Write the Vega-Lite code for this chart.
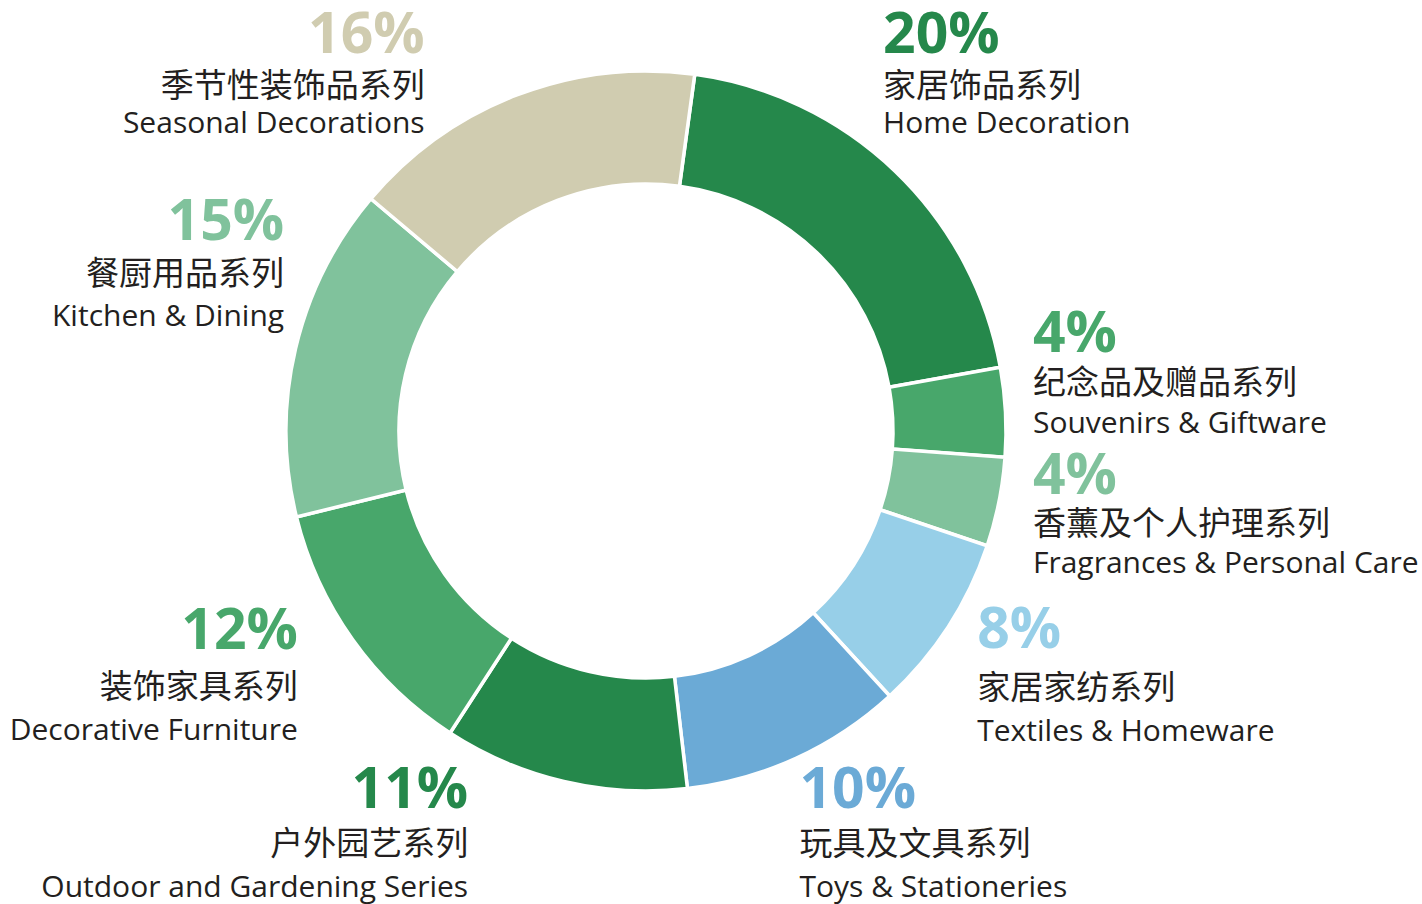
{
  "$schema": "https://vega.github.io/schema/vega-lite/v6.json",
  "width": 1292,
  "height": 862,
  "autosize": "none",
  "padding": {"left": 0, "top": 0, "right": 130, "bottom": 42},
  "background": "white",
  "config": {"view": {"stroke": null}},
  "data": {
    "values": [
      {"idx": 0, "cn": "家居饰品系列", "en": "Home Decoration", "share": 20},
      {"idx": 1, "cn": "纪念品及赠品系列", "en": "Souvenirs & Giftware", "share": 4},
      {"idx": 2, "cn": "香薰及个人护理系列", "en": "Fragrances & Personal Care", "share": 4},
      {"idx": 3, "cn": "家居家纺系列", "en": "Textiles & Homeware", "share": 8},
      {"idx": 4, "cn": "玩具及文具系列", "en": "Toys & Stationeries", "share": 10},
      {"idx": 5, "cn": "户外园艺系列", "en": "Outdoor and Gardening Series", "share": 11},
      {"idx": 6, "cn": "装饰家具系列", "en": "Decorative Furniture", "share": 12},
      {"idx": 7, "cn": "餐厨用品系列", "en": "Kitchen & Dining", "share": 15},
      {"idx": 8, "cn": "季节性装饰品系列", "en": "Seasonal Decorations", "share": 16}
    ]
  },
  "transform": [{"calculate": "datum.share + '%'", "as": "pct"}],
  "encoding": {
    "theta": {"field": "share", "type": "quantitative", "stack": true, "scale": {"range": [0.136, 6.419]}},
    "order": {"field": "idx", "type": "quantitative"},
    "detail": {"field": "en", "type": "nominal"}
  },
  "layer": [
    {
      "mark": {"type": "arc", "outerRadius": 360, "innerRadius": 247, "stroke": "white", "strokeWidth": 3.5},
      "encoding": {
        "color": {
          "field": "en", "type": "nominal", "legend": null,
          "scale": {
            "domain": ["Home Decoration", "Souvenirs & Giftware", "Fragrances & Personal Care", "Textiles & Homeware", "Toys & Stationeries", "Outdoor and Gardening Series", "Decorative Furniture", "Kitchen & Dining", "Seasonal Decorations"],
            "range": ["#25884B", "#48A76B", "#80C29C", "#97CFE8", "#6BAAD6", "#25884B", "#48A76B", "#80C29C", "#D0CCB0"]
          }
        }
      }
    },
    {
      "mark": {
        "type": "text", "radius": 383, "font": "Open Sans", "fontWeight": "bold", "fontSize": 57,
        "baseline": "alphabetic",
        "align": {"expr": "datum.idx < 5 ? 'left' : 'right'"},
        "dx": {"expr": "[-28, 4.5, 11.5, 10, -6, -90.5, -36, 11, -84][datum.idx]"},
        "dy": {"expr": "[-101.6, -59, -12.7, 8.4, 28.7, 4.1, -3.9, -103.5, -20.4][datum.idx]"}
      },
      "encoding": {
        "text": {"field": "pct", "type": "nominal"},
        "color": {"field": "en", "type": "nominal", "legend": null}
      }
    },
    {
      "mark": {
        "type": "text", "radius": 383, "font": "Noto Sans CJK SC", "fontSize": 33, "fill": "#231F20",
        "baseline": "alphabetic",
        "align": {"expr": "datum.idx < 5 ? 'left' : 'right'"},
        "dx": {"expr": "[-28, 4.5, 11.5, 10, -6, -90.5, -36, 11, -84][datum.idx]"},
        "dy": {"expr": "[-57.6, -17, 28.3, 59.4, 75.7, 51.1, 45.1, -58.5, 23.6][datum.idx]"}
      },
      "encoding": {"text": {"field": "cn", "type": "nominal"}}
    },
    {
      "mark": {
        "type": "text", "radius": 383, "font": "Open Sans", "fontSize": 30, "fill": "#231F20",
        "baseline": "alphabetic",
        "align": {"expr": "datum.idx < 5 ? 'left' : 'right'"},
        "dx": {"expr": "[-28, 4.5, 11.5, 10, -6, -90.5, -36, 11, -84][datum.idx]"},
        "dy": {"expr": "[-21.6, 22, 66.3, 101.4, 117.7, 93.1, 87.1, -17.5, 59.6][datum.idx]"}
      },
      "encoding": {"text": {"field": "en", "type": "nominal"}}
    }
  ]
}
